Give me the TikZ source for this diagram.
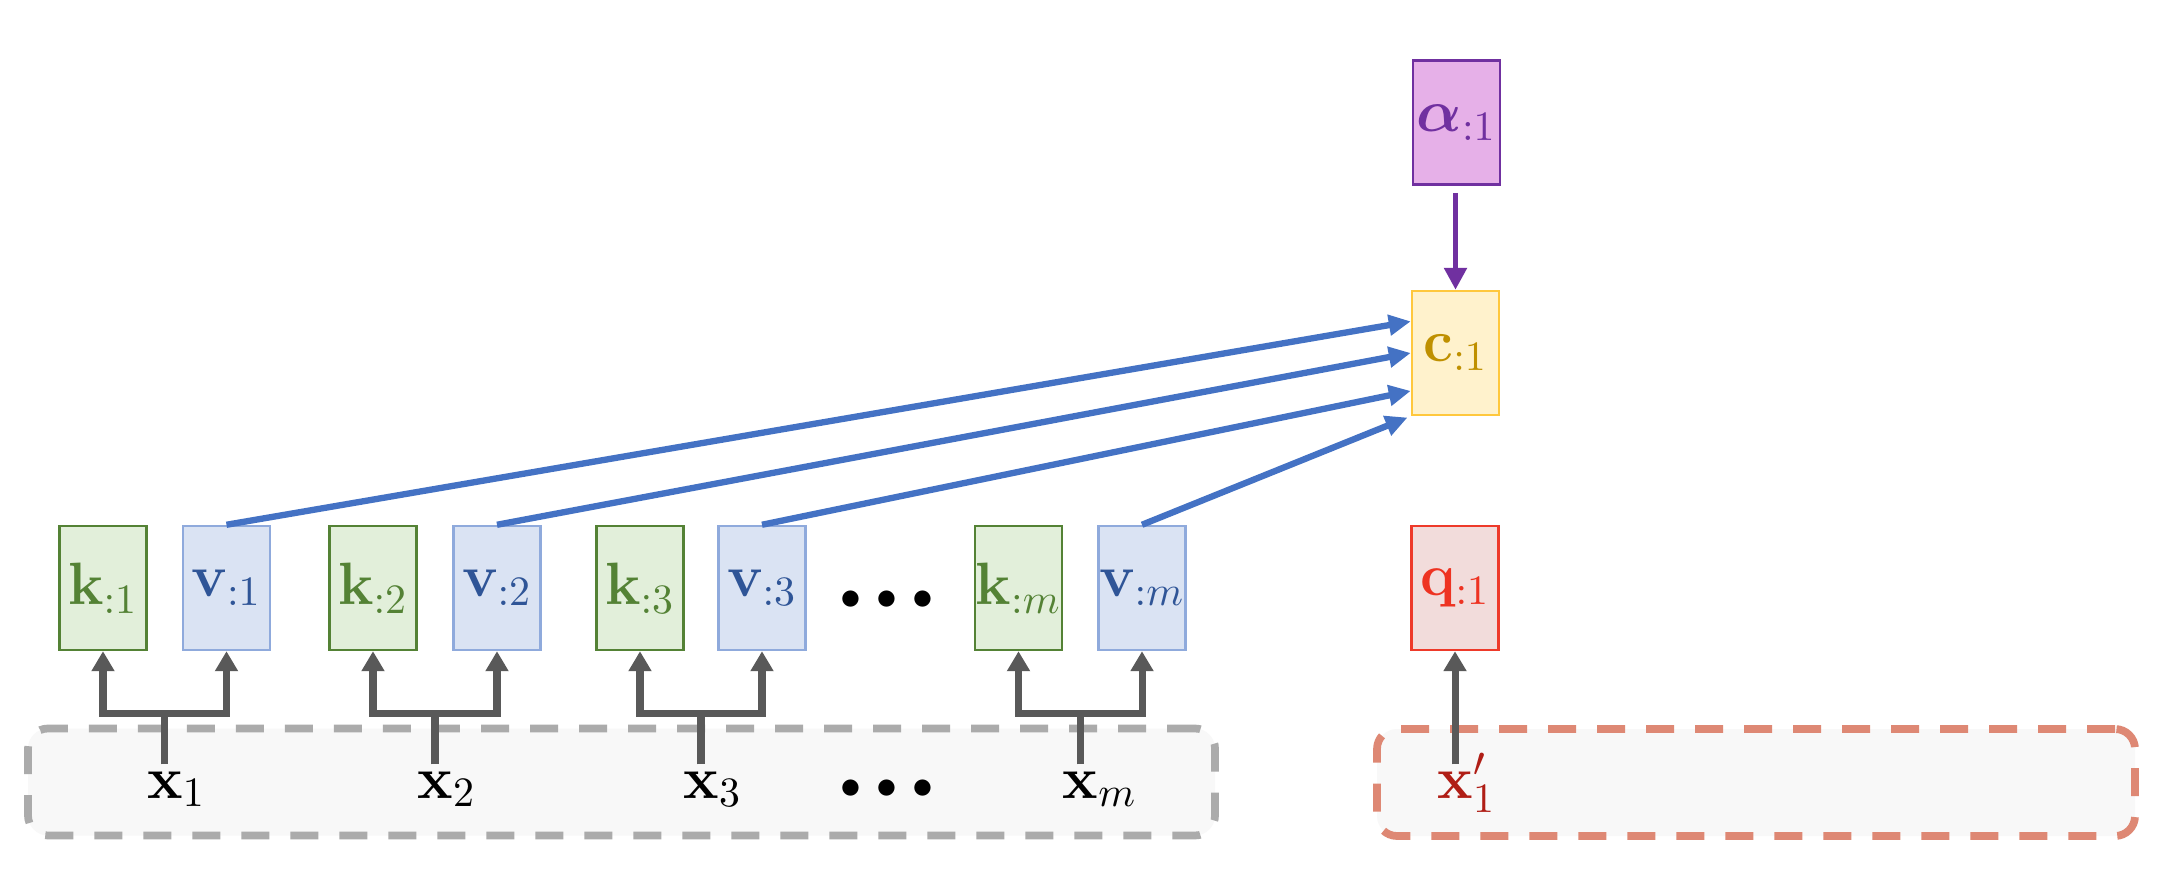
\documentclass[tikz,border=0pt]{standalone}
\usepackage{fix-cm}
\usepackage{amsmath,bm}
\usetikzlibrary{arrows.meta,calc}
\definecolor{kfill}{HTML}{E2EFDA}
\definecolor{kdraw}{HTML}{548235}
\definecolor{vfill}{HTML}{DAE3F3}
\definecolor{vdraw}{HTML}{8FAADC}
\definecolor{vtext}{HTML}{2F5597}
\definecolor{afill}{HTML}{E6B0E8}
\definecolor{adraw}{HTML}{7030A0}
\definecolor{cfill}{HTML}{FFF2CC}
\definecolor{cdraw}{HTML}{FFC83D}
\definecolor{ctext}{HTML}{BF9000}
\definecolor{qfill}{HTML}{F2DCDB}
\definecolor{qdraw}{HTML}{EE3A2A}
\definecolor{qtext}{HTML}{EE3322}
\definecolor{arrblue}{HTML}{4472C4}
\definecolor{arrgray}{HTML}{595959}
\definecolor{boxgray}{HTML}{ABABAB}
\definecolor{boxred}{HTML}{DE8874}
\definecolor{panelfill}{HTML}{F8F8F8}
\definecolor{xred}{HTML}{B01E16}
\tikzset{
  vecbox/.style={draw, line width=0.7pt, minimum width=0.87cm, minimum height=1.24cm,
    inner sep=0pt, font=\fontsize{17}{20}\selectfont},
  kbox/.style={vecbox, fill=kfill, draw=kdraw, text=kdraw},
  vbox/.style={vecbox, fill=vfill, draw=vdraw, text=vtext},
  abox/.style={vecbox, fill=afill, draw=adraw, text=adraw},
  cbox/.style={vecbox, fill=cfill, draw=cdraw, text=ctext},
  qbox/.style={vecbox, fill=qfill, draw=qdraw, text=qtext},
  xlabel/.style={anchor=base west, inner sep=0pt, text height=0.33cm, text depth=0.1cm,
    font=\fontsize{17}{20}\selectfont},
  dotstext/.style={inner sep=0pt, font=\fontsize{17}{20}\selectfont},
  garrow/.style={draw=arrgray, line width=2pt, {Triangle[length=0.2cm,width=0.22cm]}-{Triangle[length=0.2cm,width=0.22cm]}},
  garrowone/.style={draw=arrgray, line width=2pt, -{Triangle[length=0.2cm,width=0.22cm]}},
  gline/.style={draw=arrgray, line width=2pt},
  barrow/.style={draw=arrblue, line width=1.8pt, -{Triangle[length=0.22cm,width=0.2cm]}},
  parrow/.style={draw=adraw, line width=1.6pt, -{Triangle[length=0.22cm,width=0.22cm]}},
  panel/.style={rounded corners=0.2cm, fill=panelfill, line width=2.2pt,
    dash pattern=on 0.28cm off 0.21cm, minimum height=1.07cm, inner sep=0pt},
}
\newcommand{\dotsrow}{$\scriptstyle\bullet$\hspace{4.3pt}$\scriptstyle\bullet$\hspace{4.3pt}$\scriptstyle\bullet$}
\begin{document}
\begin{tikzpicture}
\useasboundingbox (0,0) rectangle (21.83,-8.90);
\fill[white] (0,0) rectangle (21.83,-8.90);

% panels
\node[panel, draw=boxgray, minimum width=11.87cm] (pg) at (6.215,-7.82) {};
\node[panel, draw=boxred, minimum width=7.58cm] (pr) at (17.56,-7.825) {};

% key / value boxes
\node[kbox] (k1) at (1.03,-5.88) {$\mathbf{k}_{:1}$};
\node[vbox] (v1) at (2.265,-5.88) {$\mathbf{v}_{:1}$};
\node[kbox] (k2) at (3.73,-5.88) {$\mathbf{k}_{:2}$};
\node[vbox] (v2) at (4.97,-5.88) {$\mathbf{v}_{:2}$};
\node[kbox] (k3) at (6.40,-5.88) {$\mathbf{k}_{:3}$};
\node[vbox] (v3) at (7.62,-5.88) {$\mathbf{v}_{:3}$};
\node[kbox] (km) at (10.185,-5.88) {$\mathbf{k}_{:m}$};
\node[vbox] (vm) at (11.42,-5.88) {$\mathbf{v}_{:m}$};
\node[dotstext] (d1) at (8.87,-6.00) {\dotsrow};

\node[qbox] (q) at (14.55,-5.88) {$\mathbf{q}_{:1}$};
\node[cbox] (c) at (14.555,-3.53) {$\mathbf{c}_{:1}$};
\node[abox] (a) at (14.565,-1.225) {$\boldsymbol{\alpha}_{:1}$};

% bracket points
\coordinate (s1) at ($(k1.south)!0.5!(v1.south)+(0,-0.62)$);
\coordinate (s2) at ($(k2.south)!0.5!(v2.south)+(0,-0.62)$);
\coordinate (s3) at ($(k3.south)!0.5!(v3.south)+(0,-0.62)$);
\coordinate (sm) at ($(km.south)!0.5!(vm.south)+(0,-0.62)$);

% input labels
\node[xlabel] (x1) at ($(s1|-0,-7.98)+(-0.18,0)$) {$\mathbf{x}_1$};
\node[xlabel] (x2) at ($(s2|-0,-7.98)+(-0.18,0)$) {$\mathbf{x}_2$};
\node[xlabel] (x3) at ($(s3|-0,-7.98)+(-0.18,0)$) {$\mathbf{x}_3$};
\node[xlabel] (xm) at ($(sm|-0,-7.98)+(-0.18,0)$) {$\mathbf{x}_m$};
\node[dotstext] (d2) at (8.87,-7.89) {\dotsrow};
\node[xlabel, text=xred] (xq) at ($(q.south|-0,-7.98)+(-0.18,0)$) {$\mathbf{x}'_1$};

% gray connectors
\foreach \k/\v/\s/\x in {k1/v1/s1/x1, k2/v2/s2/x2, k3/v3/s3/x3, km/vm/sm/xm}{
  \draw[garrow] (\k.south) -- (\k.south |- \s) -- (\v.south |- \s) -- (\v.south);
  \draw[gline] (\s |- \x.north) -- (\s);
}
\draw[garrowone] (q.south |- xq.north) -- (q.south);

% blue connectors
\draw[barrow] (v1.north) -- ($(c.north west)!0.25!(c.south west)$);
\draw[barrow] (v2.north) -- (c.west);
\draw[barrow] (v3.north) -- ($(c.north west)!0.8!(c.south west)$);
\draw[barrow, shorten >=1pt] (vm.north) -- (c.south west);

% purple connector
\draw[parrow, shorten <=2pt] (a.south -| c.north) -- (c.north);
\end{tikzpicture}
\end{document}
